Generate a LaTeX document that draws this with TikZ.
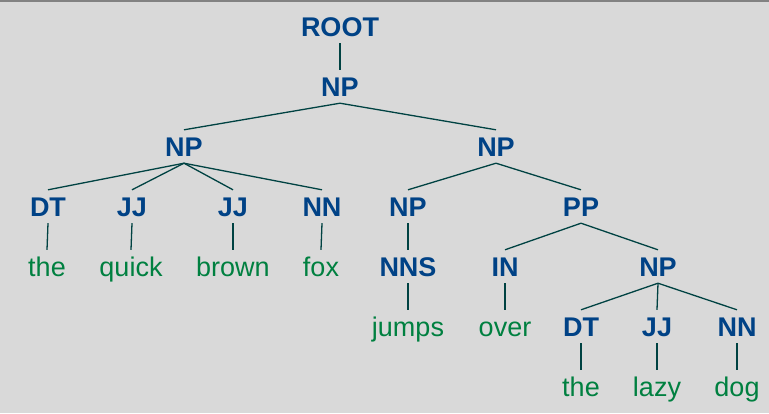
\documentclass[tikz,border=0pt]{standalone}
\usepackage{fontspec}
\setmainfont{Liberation Sans}
\definecolor{bgc}{RGB}{217,217,217}
\definecolor{topc}{RGB}{130,130,130}
\definecolor{labc}{RGB}{0,66,134}
\definecolor{wordc}{RGB}{0,128,64}
\definecolor{edgec}{RGB}{0,66,66}
\tikzset{
  base/.style={anchor=base, inner xsep=0pt, inner ysep=6.5pt, text height=20pt, text depth=0pt, font=\fontsize{27}{27}\selectfont},
  lab/.style={base, text=labc, font=\fontsize{27}{27}\selectfont\bfseries},
  word/.style={base, text=wordc},
  edge/.style={draw=edgec, line width=1.3pt}
}
\begin{document}
\begin{tikzpicture}[x=1pt,y=-1pt]
\useasboundingbox (0,0) rectangle (769,413);
\fill[bgc] (0,0) rectangle (769,413);
\fill[topc] (0,0) rectangle (769,1.5);
% row 1
\node[lab] (root) at (340,36.5) {ROOT};
% row 2
\node[lab] (np1) at (340,96.5) {NP};
% row 3
\node[lab] (npl) at (184,156.5) {NP};
\node[lab] (npr) at (496,156.5) {NP};
% row 4
\node[lab] (dt1) at (48,216.5) {DT};
\node[lab] (jj1) at (132,216.5) {JJ};
\node[lab] (jj2) at (233,216.5) {JJ};
\node[lab] (nn1) at (322,216.5) {NN};
\node[lab] (np2) at (408,216.5) {NP};
\node[lab] (pp) at (581,216.5) {PP};
% row 5
\node[word] (w1) at (47,276.5) {the};
\node[word] (w2) at (131,276.5) {quick};
\node[word] (w3) at (233,276.5) {brown};
\node[word] (w4) at (321,276.5) {fox};
\node[lab] (nns) at (408,276.5) {NNS};
\node[lab] (in) at (505,276.5) {IN};
\node[lab] (np3) at (658,276.5) {NP};
% row 6
\node[word] (w5) at (408,336.5) {jumps};
\node[word] (w6) at (505,336.5) {over};
\node[lab] (dt2) at (581,336.5) {DT};
\node[lab] (jj3) at (657,336.5) {JJ};
\node[lab] (nn2) at (737,336.5) {NN};
% row 7
\node[word] (w7) at (581,396.5) {the};
\node[word] (w8) at (657,396.5) {lazy};
\node[word] (w9) at (737,396.5) {dog};
% edges
\draw[edge] (root.south) -- (np1.north);
\draw[edge] (npl.north) -- (np1.south) -- (npr.north);
\draw[edge] (npl.south) -- (dt1.north);
\draw[edge] (npl.south) -- (jj1.north);
\draw[edge] (npl.south) -- (jj2.north);
\draw[edge] (npl.south) -- (nn1.north);
\draw[edge] (np2.north) -- (npr.south) -- (pp.north);
\draw[edge] (dt1.south) -- (w1.north);
\draw[edge] (jj1.south) -- (w2.north);
\draw[edge] (jj2.south) -- (w3.north);
\draw[edge] (nn1.south) -- (w4.north);
\draw[edge] (np2.south) -- (nns.north);
\draw[edge] (in.north) -- (pp.south) -- (np3.north);
\draw[edge] (nns.south) -- (w5.north);
\draw[edge] (in.south) -- (w6.north);
\draw[edge] (np3.south) -- (dt2.north);
\draw[edge] (np3.south) -- (jj3.north);
\draw[edge] (np3.south) -- (nn2.north);
\draw[edge] (dt2.south) -- (w7.north);
\draw[edge] (jj3.south) -- (w8.north);
\draw[edge] (nn2.south) -- (w9.north);
\end{tikzpicture}
\end{document}
